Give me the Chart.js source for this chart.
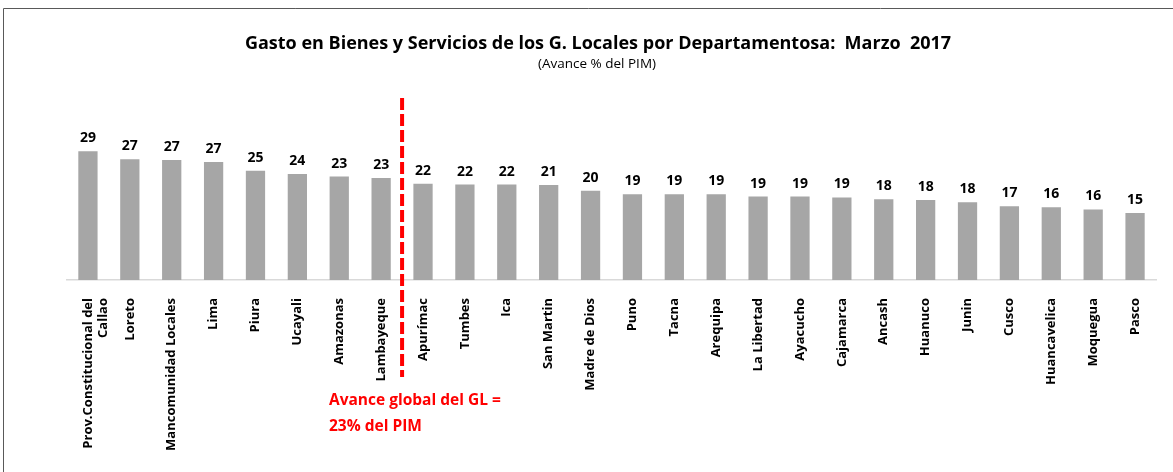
<!DOCTYPE html>
<html>
<head>
<meta charset="utf-8">
<script src="https://cdn.jsdelivr.net/npm/chart.js@4"></script>
<style>
  body { margin: 0; background: #fff; }
</style>
</head>
<body>
<canvas id="chart" width="1173" height="472"></canvas>
<script>
const departamentos = [
  ['Prov.Constitucional del', 'Callao'], 'Loreto', 'Mancomunidad Locales', 'Lima', 'Piura',
  'Ucayali', 'Amazonas', 'Lambayeque', 'Apurímac', 'Tumbes', 'Ica', 'San Martin',
  'Madre de Dios', 'Puno', 'Tacna', 'Arequipa', 'La Libertad', 'Ayacucho', 'Cajamarca',
  'Ancash', 'Huanuco', 'Junin', 'Cusco', 'Huancavelica', 'Moquegua', 'Pasco'
]
// avance % del PIM
const avance = [
  29.0, 27.2, 27.0, 26.6, 24.6, 23.9, 23.3, 23.0, 21.7, 21.5, 21.5, 21.4,
  20.1, 19.3, 19.3, 19.3, 18.8, 18.8, 18.6, 18.2, 18.0, 17.5, 16.6, 16.4, 15.9, 15.1
]
// rounded labels as printed on the chart
const etiquetas = [
  '29', '27', '27', '27', '25', '24', '23', '23', '22', '22', '22', '21',
  '20', '19', '19', '19', '19', '19', '19', '18', '18', '18', '17', '16', '16', '15'
]
const titulo = 'Gasto en Bienes y Servicios de los G. Locales por Departamentosa:  Marzo  2017'
const subtitulo = '(Avance % del PIM)'
const notaGlobal = ['Avance global del GL =', '23% del PIM']
const corteIndex = 7 // dashed line after Lambayeque

const FONT = '"Open Sans", Lato, sans-serif'

// frame, titles, value labels and the red marker
const extras = {
  id: 'extras',
  afterDraw(chart) {
    const ctx = chart.ctx
    const x = chart.scales.x
    ctx.save()

    // frame (top + left)
    ctx.strokeStyle = '#595959'
    ctx.lineWidth = 1
    ctx.beginPath()
    ctx.moveTo(3.5, 472)
    ctx.lineTo(3.5, 8.5)
    ctx.lineTo(1173, 8.5)
    ctx.stroke()

    // titles
    ctx.fillStyle = '#000'
    ctx.textAlign = 'center'
    ctx.textBaseline = 'middle'
    ctx.font = 'bold 18px ' + FONT
    ctx.fillText(titulo, 598, 44)
    ctx.font = '13.5px ' + FONT
    ctx.fillText(subtitulo, 597, 64)

    // value labels
    ctx.font = 'bold 14px ' + FONT
    ctx.textBaseline = 'bottom'
    chart.getDatasetMeta(0).data.forEach((bar, i) => {
      ctx.fillText(etiquetas[i], bar.x, bar.y - 6)
    })

    // red dashed line
    const xl = (x.getPixelForValue(corteIndex) + x.getPixelForValue(corteIndex + 1)) / 2
    ctx.strokeStyle = '#FF0000'
    ctx.lineWidth = 4
    ctx.setLineDash([12, 4])
    ctx.beginPath()
    ctx.moveTo(xl, 98)
    ctx.lineTo(xl, 377)
    ctx.stroke()
    ctx.setLineDash([])

    // note
    ctx.fillStyle = '#FF0000'
    ctx.font = 'bold 15.5px ' + FONT
    ctx.textAlign = 'left'
    ctx.textBaseline = 'middle'
    ctx.fillText(notaGlobal[0], 329, 401)
    ctx.fillText(notaGlobal[1], 329, 427)

    ctx.restore()
  }
}

new Chart(document.getElementById('chart'), {
  type: 'bar',
  data: {
    labels: departamentos,
    datasets: [{
      data: avance,
      backgroundColor: '#A6A6A6',
      barPercentage: 0.46,
      categoryPercentage: 1
    }]
  },
  options: {
    responsive: false,
    animation: false,
    layout: { padding: { left: 67, right: 17, top: 124.6, bottom: 0 } },
    plugins: {
      legend: { display: false },
      tooltip: { enabled: false }
    },
    scales: {
      x: {
        grid: { display: false },
        border: { display: true, color: '#D9D9D9', width: 1.5 },
        ticks: {
          color: '#000',
          font: { family: FONT, size: 13, weight: 'bold' },
          minRotation: 90,
          maxRotation: 90,
          autoSkip: false,
          padding: 10
        },
        afterFit(scale) { scale.height = 192 }
      },
      y: {
        display: false,
        min: 0,
        max: 35
      }
    }
  },
  plugins: [extras]
})
</script>
</body>
</html>
